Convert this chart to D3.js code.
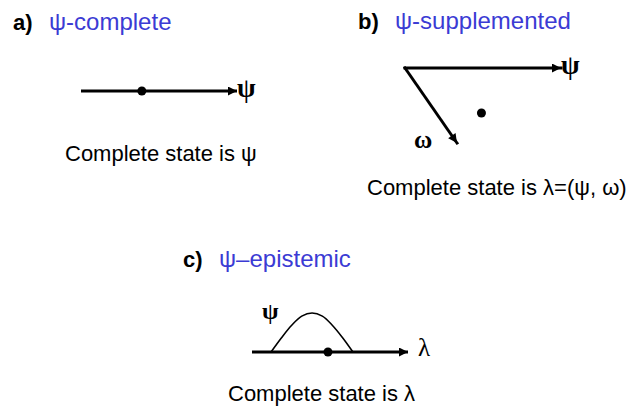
<!DOCTYPE html>
<html><head><meta charset="utf-8">
<script src="https://cdn.jsdelivr.net/npm/d3@7"></script>
<style>html,body{margin:0;padding:0;background:#fff}svg{display:block}</style>
</head><body>
<script>
// Panel data
const panelLetters = ["a)", "b)", "c)"];
const panelTitles = ["ψ-complete", "ψ-supplemented", "ψ–epistemic"];
const panelCaptions = [
  ["Complete state is ψ"],
  ["Complete state is λ=(ψ, ω)"],
  ["Complete state is λ"]
];
// Panel a: one axis (ψ), state point along it (fraction of axis length)
const aAxisLabel = "ψ";
const aPoint = 0.39;
// Panel b: two axes ψ (horizontal) and ω (diagonal); state point in (ψ, ω) units
const bAxisLabels = ["ψ", "ω"];
const bPoint = [0.29, 0.60];
// Panel c: λ axis with distribution over λ for given ψ
const cAxisLabel = "λ";
const cCurveLabel = "ψ";
const cCurveX = [0.122, 0.188, 0.253, 0.319, 0.385, 0.451, 0.516, 0.582, 0.647];
const cCurveY = [0, 0.36, 0.68, 0.92, 1.0, 0.92, 0.68, 0.36, 0];
const cPoint = 0.487;

const W = 639, H = 407;
const svg = d3.select("body").append("svg").attr("width", W).attr("height", H);
const defs = svg.append("defs");
defs.append("marker").attr("id", "ah").attr("viewBox", "0 0 10 10")
  .attr("refX", 10).attr("refY", 5).attr("markerUnits", "userSpaceOnUse")
  .attr("markerWidth", 11).attr("markerHeight", 9).attr("orient", "auto")
  .append("path").attr("d", "M0,0 L10,5 L0,10 Z").attr("fill", "#000");

const blue = "#3b3bd4";
const sans = "'Liberation Sans', Arial, sans-serif";
const serif = "'Liberation Serif', 'Times New Roman', serif";

const titlePos = [[13, 30, 49], [358, 29, 395], [183, 267, 219]];
const capPos = [[65, 161], [367, 195], [228, 401]];
panelLetters.forEach((l, i) => {
  const [lx, y, tx] = titlePos[i];
  svg.append("text").attr("x", lx).attr("y", y).attr("font-family", sans)
    .attr("font-weight", "bold").attr("font-size", 22).attr("fill", "#000").text(l);
  svg.append("text").attr("x", tx).attr("y", y).attr("font-family", sans)
    .attr("font-size", 24).attr("fill", blue).text(panelTitles[i]);
  svg.append("text").attr("x", capPos[i][0]).attr("y", capPos[i][1]).attr("font-family", sans)
    .attr("font-size", 22).attr("fill", "#000").text(panelCaptions[i][0]);
});

// Panel a
const ax = d3.scaleLinear().domain([0, 1]).range([81, 237]);
const ay = 91;
svg.append("line").attr("x1", ax(0)).attr("y1", ay).attr("x2", ax(1)).attr("y2", ay)
  .attr("stroke", "#000").attr("stroke-width", 3).attr("marker-end", "url(#ah)");
svg.append("circle").attr("cx", ax(aPoint)).attr("cy", ay).attr("r", 4.5).attr("fill", "#000");
svg.append("text").attr("x", ax(1)).attr("y", ay + 6).attr("font-family", serif)
  .attr("font-weight", "bold").attr("font-size", 27).text(aAxisLabel);

// Panel b: oblique coordinates
const origin = [405, 68];
const psiVec = [156, 0];
const omegaVec = [52, 75];
const bpx = d3.scaleLinear().domain([0, 1]).range([0, 1]);
const toB = (p, w) => [origin[0] + bpx(p) * psiVec[0] + bpx(w) * omegaVec[0],
                       origin[1] + bpx(p) * psiVec[1] + bpx(w) * omegaVec[1]];
[[1, 0], [0, 1]].forEach(([p, w]) => {
  const e = toB(p, w);
  svg.append("line").attr("x1", origin[0]).attr("y1", origin[1]).attr("x2", e[0]).attr("y2", e[1])
    .attr("stroke", "#000").attr("stroke-width", 3).attr("stroke-linecap", "square")
    .attr("marker-end", "url(#ah)");
});
const bp = toB(bPoint[0], bPoint[1]);
svg.append("circle").attr("cx", bp[0]).attr("cy", bp[1]).attr("r", 4.5).attr("fill", "#000");
const pe = toB(1, 0);
svg.append("text").attr("x", pe[0]).attr("y", pe[1] + 6).attr("font-family", serif)
  .attr("font-weight", "bold").attr("font-size", 27).text(bAxisLabels[0]);
const oe = toB(0, 1);
svg.append("text").attr("x", oe[0] - 43).attr("y", oe[1] + 5).attr("font-family", serif)
  .attr("font-weight", "bold").attr("font-size", 25).text(bAxisLabels[1]);

// Panel c
const cx = d3.scaleLinear().domain([0, 1]).range([252, 408]);
const cy = d3.scaleLinear().domain([0, 1]).range([352, 313]);
svg.append("line").attr("x1", cx(0)).attr("y1", cy(0)).attr("x2", cx(1)).attr("y2", cy(0))
  .attr("stroke", "#000").attr("stroke-width", 3).attr("marker-end", "url(#ah)");
const curve = d3.line().x(d => cx(d[0])).y(d => cy(d[1])).curve(d3.curveCatmullRom);
svg.append("path").attr("d", curve(cCurveX.map((x, i) => [x, cCurveY[i]])))
  .attr("fill", "none").attr("stroke", "#000").attr("stroke-width", 1.6);
svg.append("circle").attr("cx", cx(cPoint)).attr("cy", cy(0)).attr("r", 4.5).attr("fill", "#000");
svg.append("text").attr("x", cx(1) + 10).attr("y", cy(0) + 4).attr("font-family", serif)
  .attr("font-size", 25).text(cAxisLabel);
svg.append("text").attr("x", 262).attr("y", 319).attr("font-family", serif)
  .attr("font-weight", "bold").attr("font-size", 24).text(cCurveLabel);
</script>
</body></html>
